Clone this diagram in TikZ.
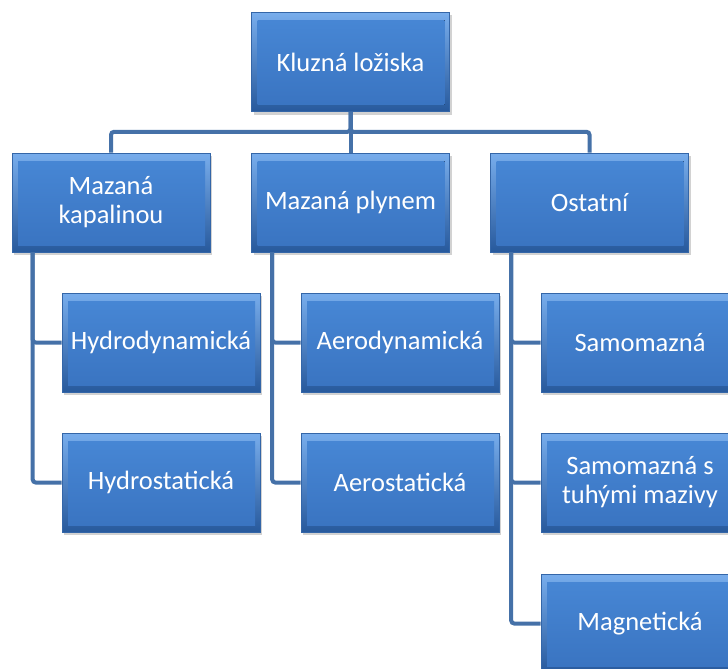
\documentclass[tikz,border=0pt]{standalone}
\usepackage{fontspec}
\setmainfont{Carlito}
\usetikzlibrary{positioning,shadows}
\definecolor{cBoxTop}{HTML}{78ADEC}
\definecolor{cBoxBot}{HTML}{27599C}
\definecolor{cBoxIn}{HTML}{4888D6}
\definecolor{cBoxInBot}{HTML}{3973C0}
\definecolor{cBoxEdge}{HTML}{3466A8}
\definecolor{cLink}{HTML}{4571A8}

\begin{document}
\begin{tikzpicture}[
    x=1pt, y=-1pt,
    font=\fontsize{26.5}{29}\selectfont,
    box/.style={draw=cBoxEdge, line width=0.6pt, top color=cBoxTop, bottom color=cBoxBot,
      minimum width=198pt, minimum height=99pt, inner sep=2pt, text=white, align=center,
      drop shadow={opacity=0.35, shadow xshift=2pt, shadow yshift=-3pt},
      path picture={\fill[top color=cBoxIn, bottom color=cBoxInBot]
        ([shift={(6pt,-8pt)}]path picture bounding box.north west) rectangle
        ([shift={(-5pt,7pt)}]path picture bounding box.south east);}},
    link/.style={draw=cLink, line width=4pt, rounded corners=3pt},
]
\clip (0,0) rectangle (728,669);
\fill[white] (0,0) rectangle (728,669);

% ---- root ----
\node[box] (root) at (350.5,62) {Kluzná ložiska};

% ---- first level ----
\node[box] (liquid) at (111,202.5) {Mazaná\\kapalinou};
\node[box] (gas) at (350.5,202.5) {Mazaná plynem};
\node[box] (other) at (589.5,202.5) {Ostatní};

% ---- second level ----
\node[box] (hydrodyn) at (161,342.5) {Hydrodynamická};
\node[box] (hydrostat) at (161,482.5) {Hydrostatická};

\node[box] (aerodyn) at (400,342.5) {Aerodynamická};
\node[box] (aerostat) at (400,482.5) {Aerostatická};

\node[box] (selflub) at (640,342.5) {Samomazná};
\node[box] (solidlub) at (640,482.5) {Samomazná s\\tuhými mazivy};
\node[box] (magnet) at (640,623.5) {Magnetická};

% ---- links: root to first level ----
\draw[link] (root.south) -- ++(0,20) -| (liquid.north);
\draw[link] (root.south) -- (gas.north);
\draw[link] (root.south) -- ++(0,20) -| (other.north);

% ---- links: first to second level ----
\draw[link] ([xshift=21pt]liquid.south west) |- (hydrodyn.west);
\draw[link] ([xshift=21pt]liquid.south west) |- (hydrostat.west);
\draw[link] ([xshift=21pt]gas.south west) |- (aerodyn.west);
\draw[link] ([xshift=21pt]gas.south west) |- (aerostat.west);
\draw[link] ([xshift=21pt]other.south west) |- (selflub.west);
\draw[link] ([xshift=21pt]other.south west) |- (solidlub.west);
\draw[link] ([xshift=21pt]other.south west) |- (magnet.west);

\end{tikzpicture}
\end{document}
